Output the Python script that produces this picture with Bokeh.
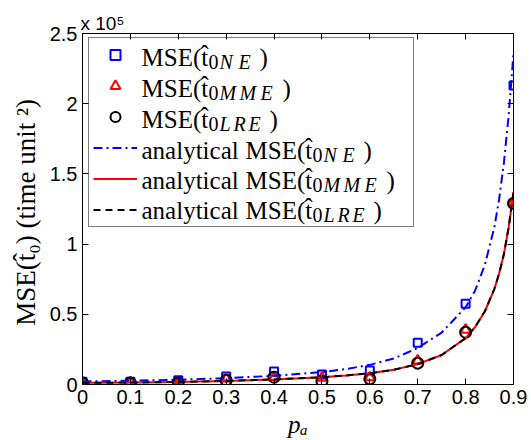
import math
from bokeh.plotting import figure
from bokeh.models import (Range1d, LinearAxis, FixedTicker, Legend, LegendItem,
                          Label, CustomJSTickFormatter)
from bokeh.embed import file_html
from bokeh.resources import INLINE

# ---------------- data (MSE values in units of 1e5 time unit^2) ----------------
p_a = [0.0, 0.1, 0.2, 0.3, 0.4, 0.5, 0.6, 0.7, 0.8, 0.9]
mse_ne = [0.020, 0.020, 0.030, 0.057, 0.093, 0.071, 0.100, 0.297, 0.575, 2.13]
mse_mme = [0.010, 0.015, 0.012, 0.040, 0.050, 0.048, 0.050, 0.170, 0.390, 1.30]
mse_lre = [0.010, 0.010, 0.010, 0.030, 0.052, 0.024, 0.040, 0.152, 0.372, 1.29]

p_curve = [0.0, 0.1, 0.2, 0.3, 0.4, 0.5, 0.55, 0.6, 0.65, 0.7, 0.75, 0.8,
           0.82, 0.84, 0.86, 0.87, 0.88, 0.89, 0.9]
an_ne = [0.022, 0.027, 0.034, 0.045, 0.062, 0.088, 0.110, 0.140, 0.185, 0.260,
         0.370, 0.550, 0.670, 0.850, 1.120, 1.320, 1.580, 1.920, 2.360]
an_mme = [0.012, 0.014, 0.018, 0.025, 0.036, 0.052, 0.064, 0.080, 0.105, 0.145,
          0.210, 0.330, 0.410, 0.520, 0.680, 0.790, 0.930, 1.120, 1.370]
an_lre = [0.012, 0.014, 0.018, 0.025, 0.036, 0.052, 0.064, 0.080, 0.105, 0.145,
          0.210, 0.330, 0.410, 0.520, 0.680, 0.790, 0.930, 1.120, 1.370]

x_ticks = [0.0, 0.1, 0.2, 0.3, 0.4, 0.5, 0.6, 0.7, 0.8, 0.9]
x_tick_labels = ["0", "0.1", "0.2", "0.3", "0.4", "0.5", "0.6", "0.7", "0.8", "0.9"]
y_ticks = [0.0, 0.5, 1.0, 1.5, 2.0, 2.5]
y_tick_labels = ["0", "0.5", "1", "1.5", "2", "2.5"]

x_label = "p\u2090"
y_label = "MSE(t\u0302\u2080)  (time unit \u00b2)"
exponent_text = "x 10\u2075"

legend_prefix = ["", "", "", "analytical", "analytical", "analytical"]
legend_subs = ["NE", "MME", "LRE", "NE", "MME", "LRE"]
hat_t = "t\u0302"

# ---------------- figure ----------------
FL, FB = 82, 384  # frame left / bottom in canvas pixels
p = figure(width=531, height=440, output_backend="svg", toolbar_location=None,
           x_range=Range1d(0, 0.9), y_range=Range1d(0, 2.5),
           min_border_left=FL, min_border_right=531 - 513,
           min_border_top=33, min_border_bottom=440 - FB)
p.xgrid.visible = False
p.ygrid.visible = False
p.outline_line_color = "black"
p.outline_line_width = 1
p.background_fill_color = "white"
p.border_fill_color = "white"

TICK_FONT = "Liberation Sans"
SERIF = "Liberation Serif"


def style_axis(ax, ticks, labels, show):
    ax.ticker = FixedTicker(ticks=ticks)
    ax.major_tick_in = 6
    ax.major_tick_out = 0
    ax.minor_tick_line_color = None
    ax.axis_line_color = "black"
    ax.major_tick_line_color = "black"
    if show:
        ax.major_label_overrides = {t: l for t, l in zip(ticks, labels)}
        ax.major_label_text_font = TICK_FONT
        ax.major_label_text_font_size = "20px"
        ax.major_label_text_color = "black"
    else:
        ax.formatter = CustomJSTickFormatter(code="return ''")
        ax.major_label_standoff = 0


style_axis(p.xaxis[0], x_ticks, x_tick_labels, True)
p.xaxis[0].major_label_standoff = 5
p.xaxis[0].axis_label = x_label
p.xaxis[0].axis_label_text_font = SERIF
p.xaxis[0].axis_label_text_font_style = "italic"
p.xaxis[0].axis_label_text_font_size = "25px"
p.xaxis[0].axis_label_text_line_height = 0.6
p.xaxis[0].axis_label_text_color = "black"
p.xaxis[0].axis_label_standoff = 4

style_axis(p.yaxis[0], y_ticks, y_tick_labels, True)
p.yaxis[0].major_label_standoff = 5
p.yaxis[0].axis_label = y_label
p.yaxis[0].axis_label_text_font = SERIF
p.yaxis[0].axis_label_text_font_style = "normal"
p.yaxis[0].axis_label_text_font_size = "27px"
p.yaxis[0].axis_label_text_color = "black"
p.yaxis[0].axis_label_standoff = 6

top_ax = LinearAxis()
style_axis(top_ax, x_ticks, x_tick_labels, False)
p.add_layout(top_ax, "above")
right_ax = LinearAxis()
style_axis(right_ax, y_ticks, y_tick_labels, False)
p.add_layout(right_ax, "right")

p.title.text = exponent_text
p.title.align = "left"
p.title.text_font = TICK_FONT
p.title.text_font_size = "19px"
p.title.text_font_style = "normal"
p.title.text_color = "black"
p.title.standoff = 0
p.title.offset = -2

# ---------------- data glyphs ----------------
r_ne = p.scatter(p_a, mse_ne, marker="square", size=8, fill_color=None,
                 line_color="blue", line_width=2)
r_mme = p.scatter(p_a, mse_mme, marker="triangle", size=10, fill_color=None,
                  line_color="red", line_width=2)
r_lre = p.scatter(p_a, mse_lre, marker="circle", size=11, fill_color=None,
                  line_color="black", line_width=2)
l_ne = p.line(p_curve, an_ne, line_color="blue", line_width=2, line_dash="9 4 2 4")
l_mme = p.line(p_curve, an_mme, line_color="red", line_width=2)
l_lre = p.line(p_curve, an_lre, line_color="black", line_width=2, line_dash="7 5")

# ---------------- legend (symbols; transparent so the texts show through) ----------------
items = [LegendItem(label="", renderers=[r]) for r in [r_ne, r_mme, r_lre, l_ne, l_mme, l_lre]]
legend = Legend(items=items, location=(88 - FL, FB - 227), orientation="vertical",
                glyph_width=44, glyph_height=25, label_height=25, label_width=268,
                label_standoff=4, spacing=6, padding=4, margin=0,
                border_line_color="black", border_line_width=1,
                background_fill_alpha=0.0)
p.add_layout(legend)

# ---------------- legend texts (canvas coordinates, top-left origin) ----------------
BASE_FIX = -7  # rendered baseline sits lower than requested


def add_text(text, cx, cy, size, font=SERIF, style="normal"):
    p.add_layout(Label(x=cx - FL, y=FB - (cy + BASE_FIX), x_units="screen", y_units="screen",
                       text=text, text_font=font, text_font_style=style,
                       text_font_size=f"{size}px", text_color="black",
                       text_align="left", text_baseline="alphabetic",
                       level="overlay"))


row_base = [64, 95, 126, 157, 187, 217]
sub_offsets = {"NE": ([11, 30], 51), "MME": ([11, 31, 52], 74), "LRE": ([11, 25, 40], 61)}
MAIN = 25
SUB = 20
for i in range(6):
    by = row_base[i]
    if legend_prefix[i]:
        add_text(legend_prefix[i], 141, by, MAIN)
        mx = 245
    else:
        mx = 141
    add_text("MSE(" + hat_t, mx, by, MAIN)
    sx0 = mx + 67
    add_text("0", sx0, by + 4, SUB)
    offs, close = sub_offsets[legend_subs[i]]
    for ch, o in zip(legend_subs[i], offs):
        add_text(ch, sx0 + o, by + 4, SUB, style="italic")
    add_text(")", sx0 + close, by, MAIN)

open("out.html", "w").write(file_html(p, INLINE))
